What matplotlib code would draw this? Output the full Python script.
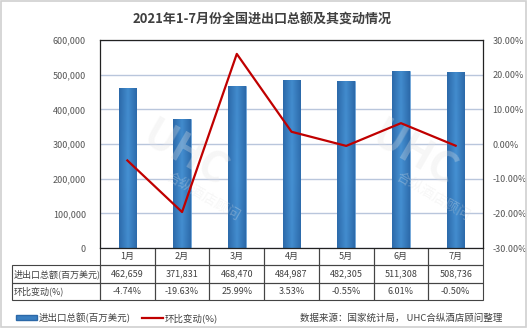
import matplotlib
matplotlib.use("Agg")
import matplotlib.pyplot as plt
import numpy as np
from matplotlib.patches import Rectangle, Patch
from matplotlib.lines import Line2D
from matplotlib.ticker import FuncFormatter, MultipleLocator
from matplotlib.colors import LinearSegmentedColormap

plt.rcParams['font.family'] = ['Noto Sans CJK SC', 'DejaVu Sans']

months = ['1月', '2月', '3月', '4月', '5月', '6月', '7月']
totals = [462659, 371831, 468470, 484987, 482305, 511308, 508736]
changes = [-4.74, -19.63, 25.99, 3.53, -0.55, 6.01, -0.50]
title = '2021年1-7月份全国进出口总额及其变动情况'
bar_label = '进出口总额(百万美元)'
line_label = '环比变动(%)'
source = '数据来源：国家统计局， UHC合纵酒店顾问整理'

W, H = 527, 328
fig = plt.figure(figsize=(W / 100, H / 100), dpi=100)
fig.patches.append(Rectangle((0.001, 0.002), 0.997, 0.995, transform=fig.transFigure,
                             fill=False, edgecolor='#d0d0d0', linewidth=1.2))

ax = fig.add_axes([100 / W, (H - 248) / H, 383 / W, 208 / H])
x = np.arange(len(months))
bars = ax.bar(x, totals, width=0.32, color='#3a7fc1', edgecolor='#5a9ad6',
              linewidth=0.4, zorder=2)

# gradient fill for the bars
grad_x = np.abs(np.linspace(-1, 1, 64))
grad = np.tile(grad_x, (64, 1))
vert = np.linspace(0, 1, 64)[:, None]
grad = np.clip(grad * 0.85 + 0.25 * np.abs(vert - 0.55), 0, 1)
cmap = LinearSegmentedColormap.from_list('b', ['#4590d2', '#2b68a8'])
for b in bars:
    bx, by = b.get_x(), b.get_y()
    bw, bh = b.get_width(), b.get_height()
    im = ax.imshow(grad, cmap=cmap, extent=[bx, bx + bw, by, by + bh],
                   aspect='auto', origin='upper', zorder=2.5)
    im.set_clip_path(b)

ax.set_xlim(-0.5, len(months) - 0.5)
ax.set_ylim(0, 600000)
ax.yaxis.set_major_locator(MultipleLocator(100000))
ax.yaxis.set_major_formatter(FuncFormatter(lambda v, p: f'{int(v):,}'))
ax.grid(axis='y', color='#b9c6dc', linewidth=1.0, zorder=0)
ax.set_axisbelow(True)
ax.tick_params(axis='y', length=0, labelsize=6.5, labelcolor='#555555', pad=10)
ax.tick_params(axis='x', length=0, labelbottom=False)
for s in ax.spines.values():
    s.set_color('#222222')
    s.set_linewidth(0.9)

ax2 = ax.twinx()
ax2.plot(x, changes, color='#c00000', linewidth=1.6, zorder=5)
ax2.set_ylim(-30, 30)
ax2.yaxis.set_major_locator(MultipleLocator(10))
ax2.yaxis.set_major_formatter(FuncFormatter(lambda v, p: f'{v:.2f}%'))
ax2.tick_params(axis='y', length=0, labelsize=6.5, labelcolor='#555555', pad=7)
for s in ax2.spines.values():
    s.set_visible(False)

# faint watermark
for (wx, wy) in [(0.22, 0.45), (0.82, 0.45)]:
    ax.text(wx, wy, 'UHC', transform=ax.transAxes, fontsize=30, fontweight='bold',
            color='#e4e4e4', alpha=0.3, rotation=-30, ha='center', va='center', zorder=3)
    ax.text(wx + 0.05, wy - 0.2, '合纵酒店顾问', transform=ax.transAxes, fontsize=10,
            color='#e4e4e4', alpha=0.3, rotation=-30, ha='center', va='center', zorder=3)

fig.suptitle(title, x=0.497, y=1 - 20 / H, fontsize=9.4, fontweight='bold',
             color='#404040', va='center')

# data table
cell_text = [[bar_label] + [f'{v:,}' for v in totals],
             [line_label] + [f'{v:.2f}%' for v in changes]]
col_labels = [''] + months
left = (12 - 100) / 383
tbl = ax.table(cellText=cell_text, colLabels=col_labels, cellLoc='center',
               colWidths=[88 / 383] + [1 / 7] * 7,
               bbox=[left, -52 / 208, 1 - left, 52 / 208])
tbl.auto_set_font_size(False)
for (r, c), cell in tbl.get_celld().items():
    cell.set_edgecolor('#444444')
    cell.set_linewidth(0.8)
    cell.set_facecolor('none')
    cell.get_text().set_fontsize(6.5)
    cell.get_text().set_color('#404040')
    if c == 0:
        cell.get_text().set_ha('left')
        cell.PAD = 0.02
        if r == 0:
            cell.visible_edges = ''
    if r == 0 and c > 0:
        cell.visible_edges = 'LRB'

handles = [Patch(facecolor='#3a7fc1', edgecolor='#2b68a8'),
           Line2D([0], [0], color='#c00000', linewidth=1.6)]
leg = fig.legend(handles, [bar_label, line_label], loc='center left',
                 bbox_to_anchor=(0.015, 1 - 318 / H), ncol=2, frameon=False,
                 fontsize=6.8, handlelength=2.2, handleheight=0.4, columnspacing=1.2,
                 handletextpad=0.2)
for t in leg.get_texts():
    t.set_color('#404040')
fig.text(502 / W, 1 - 318 / H, source, ha='right', va='center', fontsize=6.8, color='#404040')

fig.savefig('out.png', dpi=100)
